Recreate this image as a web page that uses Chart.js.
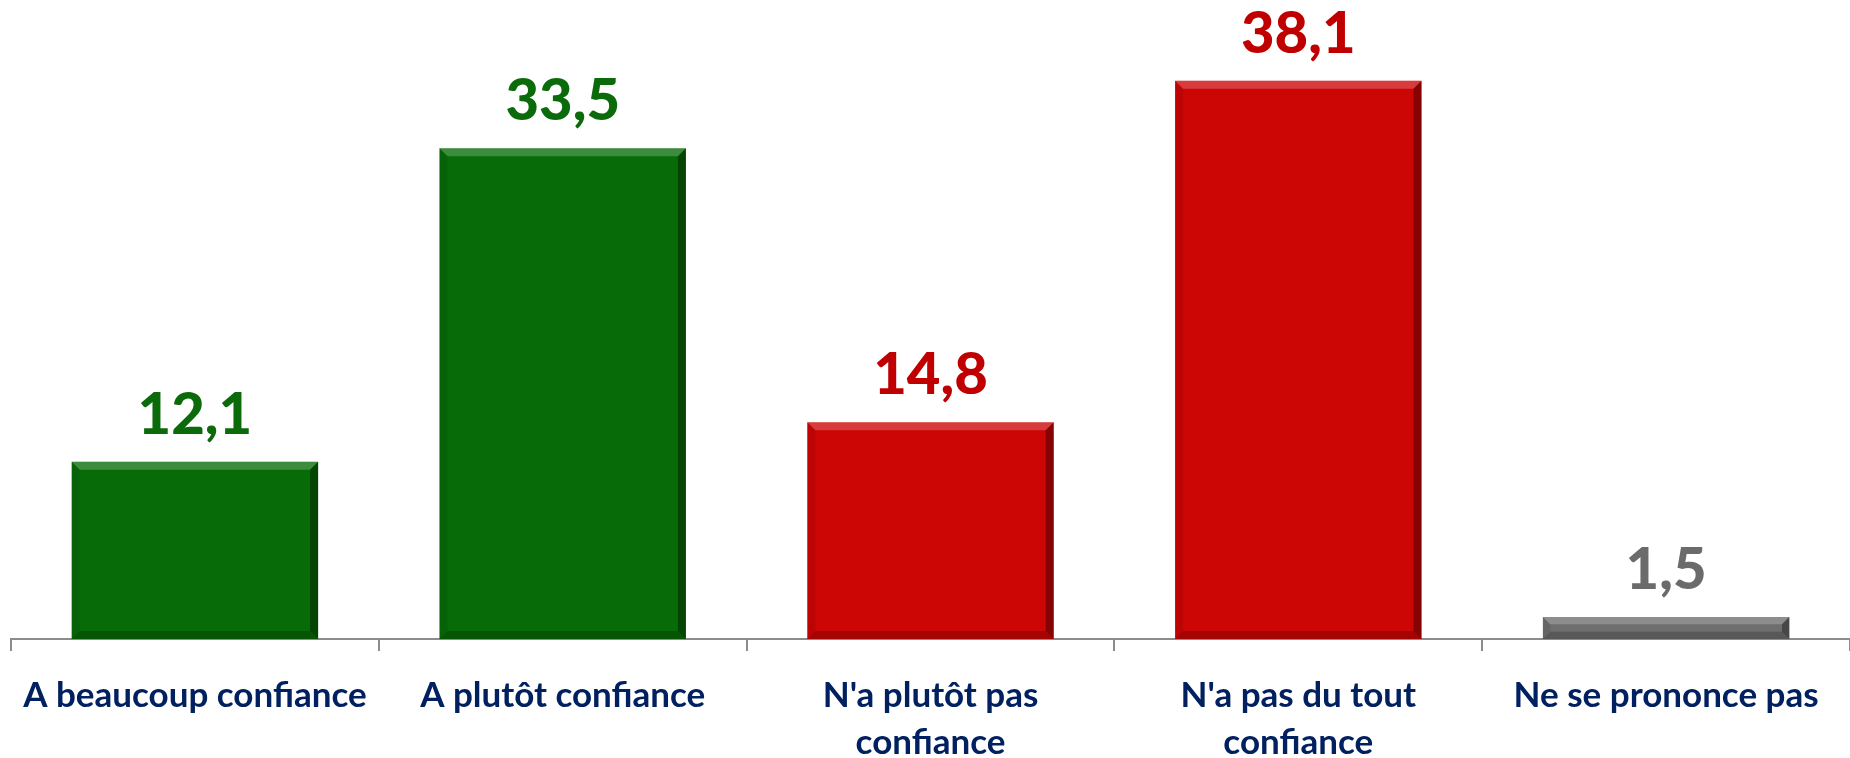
<!DOCTYPE html>
<html>
<head>
<meta charset="utf-8">
<script src="https://cdn.jsdelivr.net/npm/chart.js@4"></script>
<style>
  html, body { margin: 0; padding: 0; background: #fff; }
  #wrap { width: 1850px; height: 758px; }
</style>
</head>
<body>
<div id="wrap"><canvas id="grafico" width="1850" height="758"></canvas></div>
<script>
// données
const categories = [
  "A beaucoup confiance",
  "A plutôt confiance",
  ["N'a plutôt pas", "confiance"],
  ["N'a pas du tout", "confiance"],
  "Ne se prononce pas"
];
const valeurs = [12.1, 33.5, 14.8, 38.1, 1.5];
const couleursBarres = ["#076b07", "#076b07", "#cc0505", "#cc0505", "#6e6e6e"];
const couleursTexte = ["#0b6b0b", "#0b6b0b", "#c00000", "#c00000", "#6b6b6b"];

// petit effet de relief sur les barres
const relief = {
  id: "relief",
  afterDatasetsDraw(chart) {
    const ctx = chart.ctx;
    chart.getDatasetMeta(0).data.forEach((bar) => {
      const left = bar.x - bar.width / 2;
      const right = bar.x + bar.width / 2;
      const top = bar.y;
      const bottom = bar.base;
      const b = Math.min(8, (bottom - top) / 3);
      ctx.save();
      // haut clair
      ctx.fillStyle = "rgba(255,255,255,0.22)";
      ctx.beginPath();
      ctx.moveTo(left, top); ctx.lineTo(right, top);
      ctx.lineTo(right - b, top + b); ctx.lineTo(left + b, top + b);
      ctx.closePath(); ctx.fill();
      // droite sombre
      ctx.fillStyle = "rgba(0,0,0,0.35)";
      ctx.beginPath();
      ctx.moveTo(right, top); ctx.lineTo(right, bottom);
      ctx.lineTo(right - b, bottom - b); ctx.lineTo(right - b, top + b);
      ctx.closePath(); ctx.fill();
      // bas sombre
      ctx.fillStyle = "rgba(0,0,0,0.2)";
      ctx.beginPath();
      ctx.moveTo(left, bottom); ctx.lineTo(right, bottom);
      ctx.lineTo(right - b, bottom - b); ctx.lineTo(left + b, bottom - b);
      ctx.closePath(); ctx.fill();
      // gauche
      ctx.fillStyle = "rgba(0,0,0,0.08)";
      ctx.beginPath();
      ctx.moveTo(left, top); ctx.lineTo(left + b, top + b);
      ctx.lineTo(left + b, bottom - b); ctx.lineTo(left, bottom);
      ctx.closePath(); ctx.fill();
      ctx.restore();
    });
  }
};

// étiquettes de valeur au-dessus des barres
const etiquettes = {
  id: "etiquettes",
  afterDatasetsDraw(chart) {
    const ctx = chart.ctx;
    ctx.save();
    ctx.font = "900 58px Lato";
    ctx.textAlign = "center";
    ctx.textBaseline = "alphabetic";
    chart.getDatasetMeta(0).data.forEach((bar, i) => {
      ctx.fillStyle = couleursTexte[i];
      ctx.fillText(valeurs[i].toFixed(1).replace(".", ","), bar.x, bar.y - 28);
    });
    ctx.restore();
  }
};

new Chart(document.getElementById("grafico").getContext("2d"), {
  type: "bar",
  data: {
    labels: categories,
    datasets: [{
      data: valeurs,
      backgroundColor: couleursBarres,
      categoryPercentage: 0.67,
      barPercentage: 1
    }]
  },
  options: {
    responsive: false,
    animation: false,
    layout: { padding: { left: 11, right: 0, top: 9, bottom: 0 } },
    plugins: {
      legend: { display: false },
      tooltip: { enabled: false }
    },
    scales: {
      y: { display: false, min: 0, max: 43 },
      x: {
        offset: true,
        afterFit: (scale) => { scale.height = 119; },
        border: { display: true, color: "#8c8c8c", width: 2 },
        grid: {
          offset: true,
          drawOnChartArea: false,
          drawTicks: true,
          tickLength: 12,
          color: "#8c8c8c",
          lineWidth: 2
        },
        ticks: {
          color: "#002060",
          font: { family: "Lato", weight: "bold", size: 35, lineHeight: 1.34 },
          padding: 21,
          maxRotation: 0
        }
      }
    }
  },
  plugins: [relief, etiquettes]
});
</script>
</body>
</html>
